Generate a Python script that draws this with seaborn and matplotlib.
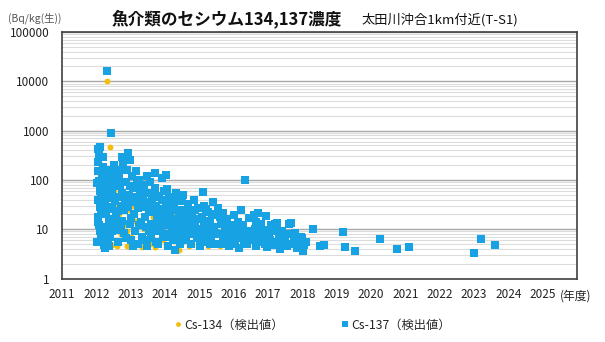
import numpy as np
import pandas as pd
import matplotlib
matplotlib.use("Agg")
import matplotlib.pyplot as plt
from matplotlib.ticker import FixedLocator, NullFormatter, LogLocator
from matplotlib.lines import Line2D
import seaborn as sns

# ---- data (sampling date as decimal fiscal year, concentration in Bq/kg wet) ----
cs137_year = [
    2012.05, 2012.08, 2012.10, 2012.09, 2012.20, 2012.32, 2012.42,
    2012.05, 2012.07, 2012.10, 2012.06, 2012.12, 2012.04, 2012.08, 2012.11, 2012.06,
    2012.14, 2012.16, 2012.18, 2012.22, 2012.25, 2012.28, 2012.30, 2012.33, 2012.35,
    2012.38, 2012.40, 2012.43, 2012.45, 2012.47, 2012.50, 2012.52, 2012.55, 2012.57,
    2012.60, 2012.62, 2012.15, 2012.22, 2012.30, 2012.36, 2012.26,
    2012.02, 2012.04, 2012.13, 2012.17, 2012.19, 2012.21, 2012.24, 2012.27, 2012.31,
    2012.37, 2012.39, 2012.44, 2012.46, 2012.48, 2012.53, 2012.58, 2012.61, 2012.64,
    2012.03, 2012.13, 2012.34,
    2012.65, 2012.68, 2012.70, 2012.74, 2012.72, 2012.76, 2012.80, 2012.82, 2012.85,
    2012.88, 2012.93, 2012.98, 2012.95, 2012.97, 2013.00, 2013.03, 2013.05, 2013.08,
    2013.10, 2013.12, 2013.15, 2013.18, 2013.20, 2013.22, 2013.25, 2013.28, 2013.30,
    2013.33, 2013.36, 2013.40, 2013.42, 2013.45, 2013.48, 2013.50, 2013.53,
    2012.67, 2012.71, 2012.75, 2012.79, 2012.83, 2012.87, 2012.91, 2012.99, 2013.02,
    2013.07, 2013.11, 2013.17, 2013.23, 2013.27, 2013.32, 2013.38, 2013.44, 2013.47,
    2013.52,
    2013.55, 2013.58, 2013.60, 2013.63, 2013.66, 2013.70, 2013.72, 2013.75, 2013.78,
    2013.80, 2013.83, 2013.86, 2013.90, 2013.93, 2013.96, 2014.00, 2014.03, 2014.05,
    2014.08, 2014.10, 2014.13, 2014.16, 2014.20, 2014.23, 2014.26, 2014.30, 2014.33,
    2014.36, 2014.40, 2014.43, 2014.46, 2014.50, 2013.70, 2013.90, 2014.04, 2014.30,
    2013.57, 2013.61, 2013.68, 2013.74, 2013.77, 2013.82, 2013.88, 2013.92, 2013.98,
    2014.02, 2014.07, 2014.12, 2014.18, 2014.25, 2014.28, 2014.35, 2014.42, 2014.48,
    2014.52, 2014.55, 2014.58, 2014.62, 2014.65, 2014.68, 2014.72, 2014.75, 2014.78,
    2014.82, 2014.85, 2014.88, 2014.92, 2014.95, 2015.00, 2015.03, 2015.07, 2015.10,
    2015.12, 2015.15, 2015.18, 2015.22, 2015.25, 2015.28, 2015.32, 2015.35, 2015.40,
    2015.43, 2015.46, 2015.50,
    2014.54, 2014.60, 2014.66, 2014.70, 2014.80, 2014.87, 2014.93, 2015.02, 2015.08,
    2015.14, 2015.20, 2015.30, 2015.37, 2015.45,
    2015.55, 2015.58, 2015.62, 2015.65, 2015.70, 2015.74, 2015.78, 2015.82, 2015.86,
    2015.90, 2015.95, 2016.00, 2016.04, 2016.08, 2016.12, 2016.16, 2016.20, 2016.24,
    2016.28, 2016.34, 2016.38, 2016.42, 2016.46,
    2015.60, 2015.68, 2015.76, 2015.84, 2015.92, 2016.02, 2016.10, 2016.18, 2016.30,
    2016.44,
    2016.50, 2016.58, 2016.55, 2016.62, 2016.66, 2016.72, 2016.76, 2016.80, 2016.84,
    2016.88, 2016.95, 2016.98, 2017.02, 2017.06, 2017.10, 2017.14, 2017.20, 2017.26,
    2017.30, 2017.33, 2017.35, 2017.40, 2017.45,
    2016.52, 2016.64, 2016.70, 2016.82, 2016.92, 2017.04, 2017.18, 2017.23, 2017.38,
    2017.50, 2017.58, 2017.78,
    2017.55, 2017.62, 2017.66, 2017.63, 2017.70, 2017.75, 2017.80, 2017.85, 2017.90,
    2017.95, 2018.00, 2018.02, 2018.05, 2018.10, 2018.30, 2018.50, 2018.63,
    2019.18, 2019.25, 2019.52, 2020.27, 2020.77, 2021.12, 2023.01, 2023.20, 2023.62,
]
cs137_value = [
    420, 310, 460, 375, 295, 16000, 880,
    150, 95, 60, 40, 28, 18, 12, 9, 14,
    70, 120, 180, 48, 33, 22, 130, 85, 55,
    16, 7, 11, 26, 65, 140, 200, 38, 19,
    9.5, 5.5, 6.5, 4.8, 8, 4.5, 4.2,
    85, 230, 45, 32, 95, 140, 65, 11, 42,
    100, 28, 160, 9, 110, 45, 75, 14, 23,
    5.5, 20, 6,
    110, 75, 45, 295, 30, 15, 8.5, 24, 90,
    160, 345, 255, 50, 13, 6, 35, 120, 70,
    20, 9, 150, 42, 5, 27, 100, 60, 14,
    7, 38, 80, 18, 11, 4.5, 55, 25,
    160, 12, 55, 200, 40, 6.5, 28, 75, 17,
    4.5, 45, 85, 12, 30, 50, 6, 28, 120,
    9,
    90, 13, 6.5, 40, 22, 70, 9, 30, 16,
    5, 48, 11, 26, 7, 60, 18, 35, 8,
    13, 4.5, 45, 22, 10, 6, 30, 15, 55,
    8.5, 20, 5, 12, 38, 135, 108, 125, 3.8,
    35, 55, 13, 5.5, 45, 20, 9, 40, 12,
    28, 65, 7, 16, 40, 9.5, 25, 14, 6.5,
    49, 9, 25, 6, 16, 32, 11, 5, 20,
    8, 40, 14, 6.5, 27, 10, 4.5, 18, 57,
    8, 30, 12, 5.5, 22, 9, 15, 7, 35,
    11, 5, 19,
    18, 12, 8, 22, 13, 25, 9, 16, 6,
    11, 26, 5, 20, 8.5,
    26.5, 8, 13, 5, 21, 9.5, 6, 16, 4.5,
    11, 7, 19, 5.5, 9, 14, 4.2, 24.5, 7,
    12, 100, 5, 9, 17,
    18, 7, 12, 8.5, 5, 12, 6.5, 10, 5.5,
    7,
    16.7, 19.5, 6, 10, 4.5, 21.6, 8, 13, 5.5,
    7, 18.5, 4.3, 9.5, 6, 12, 4.8, 12.8, 13.2,
    5.5, 7.4, 4, 9, 7.3,
    8, 14, 6.5, 9.5, 5, 7.5, 5, 9, 5,
    6, 8, 5.5,
    4.5, 12.8, 13.2, 5.1, 5, 6.5, 8.4, 4.2, 5.5,
    7, 6.6, 3.6, 4.8, 5.5, 10, 4.5, 4.8,
    8.7, 4.4, 3.6, 6.3, 3.9, 4.3, 3.3, 6.2, 4.7,
]

cs134_year = [
    2012.32, 2012.41, 2012.11, 2012.05, 2012.08, 2012.03, 2012.10, 2012.14, 2012.18,
    2012.24, 2012.28, 2012.34, 2012.38, 2012.45, 2012.50, 2012.56, 2012.60, 2012.66,
    2012.72, 2012.78, 2012.84, 2012.90, 2012.96, 2013.02, 2013.08, 2013.14, 2013.20,
    2013.27, 2013.33, 2013.40, 2013.47, 2013.55, 2013.62, 2013.70, 2013.78, 2013.86,
    2013.95, 2014.02, 2014.10, 2014.23, 2014.20, 2014.28, 2014.38, 2014.40, 2014.48,
    2014.58, 2014.70, 2014.75, 2014.82, 2014.95, 2015.10, 2015.25, 2015.40,
    2012.12, 2012.20, 2012.26, 2012.42, 2012.53, 2012.70, 2012.88, 2013.05, 2013.24,
    2013.50, 2013.66, 2013.90, 2014.15, 2014.32, 2014.62, 2014.88, 2015.05, 2015.32,
    2015.60, 2015.80,
]
cs134_value = [
    10100, 470, 215, 80, 35, 12, 55, 25, 6,
    4.5, 140, 18, 9, 4.8, 60, 30, 4.5, 20,
    8, 50, 12, 4.5, 25, 7, 4.6, 15, 35,
    6, 4.4, 10, 22, 5, 8, 4.3, 14, 25,
    6, 4.5, 17, 21.6, 7, 4.2, 9, 3.8, 5,
    6, 4.5, 9.6, 11, 5, 6, 4.5, 5,
    130, 75, 40, 28, 12, 85, 9, 30, 14,
    40, 18, 9, 30, 12, 16, 7, 10, 8,
    4.5, 6,
]

year_ticks = list(range(2011, 2026))
year_labels = [str(y) for y in year_ticks]
decade_ticks = [1, 10, 100, 1000, 10000, 100000]
decade_labels = ["1", "10", "100", "1000", "10000", "100000"]

COL_134 = "#F2BE0C"
COL_137 = "#17A2E4"

df134 = pd.DataFrame({"year": cs134_year, "value": cs134_value})
df137 = pd.DataFrame({"year": cs137_year, "value": cs137_value})

sns.set_theme(style="white")
plt.rcParams["font.family"] = ["Noto Sans CJK JP", "DejaVu Sans"]

fig = plt.figure(figsize=(6.05, 3.42), dpi=100)
ax = fig.add_axes([62 / 605, (342 - 278.5) / 342, (577 - 62) / 605, (278.5 - 32) / 342])

ax.set_yscale("log")
ax.set_xlim(2011, 2026)
ax.set_ylim(1, 100000)

# grid: darker at each decade, light for the in-between steps
ax.yaxis.set_major_locator(FixedLocator(decade_ticks))
ax.yaxis.set_minor_locator(LogLocator(base=10, subs=np.arange(2, 10)))
ax.yaxis.set_minor_formatter(NullFormatter())
ax.grid(which="major", axis="y", color="#a8a8a8", lw=1.0)
ax.grid(which="minor", axis="y", color="#dcdcdc", lw=0.8)
ax.grid(which="major", axis="x", visible=False)
ax.set_axisbelow(True)

sns.scatterplot(data=df134, x="year", y="value", ax=ax, marker="o", s=18,
                color=COL_134, linewidth=0, legend=False, zorder=3)
sns.scatterplot(data=df137, x="year", y="value", ax=ax, marker="s", s=34,
                color=COL_137, linewidth=0, legend=False, zorder=4)

ax.set_xticks(year_ticks)
ax.set_xticklabels(year_labels)
ax.set_yticklabels(decade_labels)
ax.tick_params(axis="x", direction="in", length=4, width=1, color="#404040",
               labelsize=8.5, pad=7, labelcolor="#222222")
ax.tick_params(axis="y", which="both", length=0, labelsize=8.5, pad=9, labelcolor="#222222")
ax.set_xlabel("")
ax.set_ylabel("")
for sp in ax.spines.values():
    sp.set_visible(True)
    sp.set_color("#404040")
    sp.set_linewidth(1.2)

# titles and unit labels
fig.text(112 / 605, 1 - 19 / 342, "魚介類のセシウム134,137濃度", fontsize=12,
         fontweight="bold", ha="left", va="center", color="#111111")
fig.text(361 / 605, 1 - 20 / 342, "太田川沖合1km付近(T-S1)", fontsize=9.5,
         ha="left", va="center", color="#111111")
fig.text(8 / 605, 1 - 18 / 342, "(Bq/kg(生))", fontsize=7.5,
         ha="left", va="center", color="#555555")
fig.text(560 / 605, 1 - 296 / 342, "(年度)", fontsize=8.5,
         ha="left", va="center", color="#222222")

handles = [
    Line2D([], [], marker="o", ls="", color=COL_134, markersize=3.5, markeredgewidth=0),
    Line2D([], [], marker="s", ls="", color=COL_137, markersize=4.5, markeredgewidth=0),
]
fig.legend(handles, ["Cs-134（検出値）", "Cs-137（検出値）"], loc="center",
           bbox_to_anchor=(312 / 605, 1 - 325 / 342), ncol=2, frameon=False,
           fontsize=8.8, handletextpad=0.1, handlelength=0.8, columnspacing=4.6)

fig.savefig("out.png", dpi=100)
